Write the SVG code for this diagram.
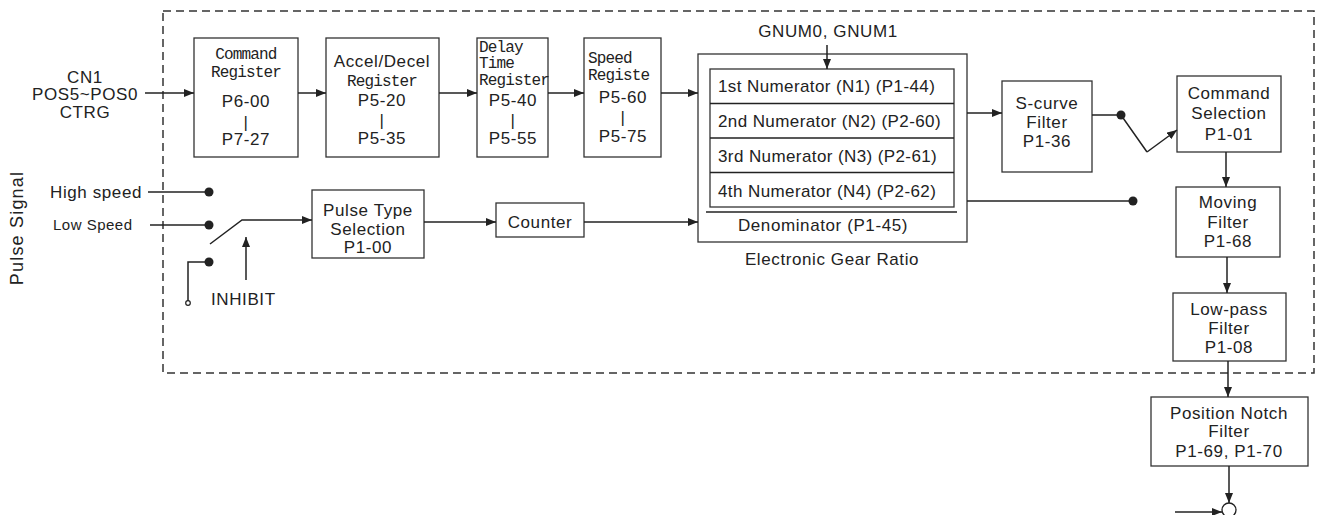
<svg xmlns="http://www.w3.org/2000/svg" width="1324" height="515" viewBox="0 0 1324 515">
<defs>
<style>
.box{fill:#fff;stroke:#333;stroke-width:1.3}
.ln{fill:none;stroke:#222;stroke-width:1.5}
.arr{fill:none;stroke:#222;stroke-width:1.5;marker-end:url(#ah)}
.dot{fill:#222}
.s{font-family:"Liberation Sans",Arial,sans-serif;font-size:17px;letter-spacing:0.6px;fill:#222}
.m{font-family:"Liberation Mono","Courier New",monospace;font-size:16px;letter-spacing:-0.85px;fill:#222}
.c{text-anchor:middle}
</style>
<marker id="ah" viewBox="0 0 10 8" refX="10" refY="4" markerWidth="10" markerHeight="8" markerUnits="userSpaceOnUse" orient="auto">
<path d="M0,0 L10,4 L0,8 Z" fill="#222"/>
</marker>
</defs>
<rect width="1324" height="515" fill="#fff"/>
<rect id="frame" x="163" y="11" width="1151" height="362" fill="none" stroke="#333" stroke-width="1.5" stroke-dasharray="8 5"/>

<g id="cn1">
<text class="s c" x="85" y="83">CN1</text>
<text class="s c" x="85" y="100">POS5~POS0</text>
<text class="s c" x="85" y="118">CTRG</text>
</g>

<g id="pulse-signal">
<text class="s c" transform="translate(23,228) rotate(-90)" style="font-size:18px;letter-spacing:1.2px">Pulse Signal</text>
<text class="s" x="50" y="198">High speed</text>
<text class="s" x="53" y="230" style="font-size:15px;letter-spacing:0.5px">Low  Speed</text>
<text class="s" x="211" y="305">INHIBIT</text>
</g>

<g id="command-register">
<rect class="box" x="194" y="38" width="104" height="119"/>
<text class="m c" x="246" y="59">Command</text>
<text class="m c" x="246" y="77">Register</text>
<text class="s c" x="246" y="107">P6-00</text>
<text class="s c" x="246" y="128">|</text>
<text class="s c" x="246" y="145">P7-27</text>
</g>

<g id="accel-decel">
<rect class="box" x="326" y="38" width="113" height="119"/>
<text class="s c" x="382" y="67">Accel/Decel</text>
<text class="m c" x="382" y="86">Register</text>
<text class="s c" x="382" y="106">P5-20</text>
<text class="s c" x="382" y="126">|</text>
<text class="s c" x="382" y="144">P5-35</text>
</g>

<g id="delay-time">
<rect class="box" x="477" y="38" width="71" height="119"/>
<text class="m" x="479" y="52">Delay</text>
<text class="m" x="479" y="68">Time</text>
<text class="m" x="479" y="85">Register</text>
<text class="s c" x="513" y="106">P5-40</text>
<text class="s c" x="513" y="126">|</text>
<text class="s c" x="513" y="144">P5-55</text>
</g>

<g id="speed-register">
<rect class="box" x="584" y="38" width="77" height="119"/>
<text class="m" x="588" y="63">Speed</text>
<text class="m" x="588" y="80">Registe</text>
<text class="s c" x="623" y="103">P5-60</text>
<text class="s c" x="623" y="123">|</text>
<text class="s c" x="623" y="142">P5-75</text>
</g>

<g id="gear-ratio">
<text class="s c" x="828" y="37">GNUM0, GNUM1</text>
<rect class="box" x="698" y="54" width="269" height="188"/>
<rect class="box" x="710" y="69" width="244" height="138"/>
<path class="ln" d="M710,103.5 H954 M710,138 H954 M710,172.5 H954" stroke-width="1.3"/>
<path class="ln" d="M706,212 H957" stroke-width="1.3"/>
<text class="s" x="718" y="92" style="letter-spacing:0.4px">1st Numerator (N1) (P1-44)</text>
<text class="s" x="718" y="127" style="letter-spacing:0.4px">2nd Numerator (N2) (P2-60)</text>
<text class="s" x="718" y="162" style="letter-spacing:0.4px">3rd Numerator (N3) (P2-61)</text>
<text class="s" x="718" y="197" style="letter-spacing:0.4px">4th Numerator (N4) (P2-62)</text>
<text class="s c" x="823" y="231">Denominator (P1-45)</text>
<text class="s c" x="832" y="265">Electronic Gear Ratio</text>
</g>

<g id="pulse-type">
<rect class="box" x="312" y="190" width="112" height="68"/>
<text class="s c" x="368" y="216">Pulse Type</text>
<text class="s c" x="368" y="235">Selection</text>
<text class="s c" x="368" y="253">P1-00</text>
</g>

<g id="counter">
<rect class="box" x="496" y="203" width="88" height="34"/>
<text class="s c" x="540" y="228">Counter</text>
</g>

<g id="s-curve">
<rect class="box" x="1002" y="81" width="90" height="91"/>
<text class="s c" x="1047" y="109">S-curve</text>
<text class="s c" x="1047" y="128">Filter</text>
<text class="s c" x="1047" y="147">P1-36</text>
</g>

<g id="command-selection">
<rect class="box" x="1177" y="76" width="104" height="76"/>
<text class="s c" x="1229" y="99">Command</text>
<text class="s c" x="1229" y="119">Selection</text>
<text class="s c" x="1229" y="140">P1-01</text>
</g>

<g id="moving-filter">
<rect class="box" x="1176" y="187" width="104" height="70"/>
<text class="s c" x="1228" y="208">Moving</text>
<text class="s c" x="1228" y="228">Filter</text>
<text class="s c" x="1228" y="247">P1-68</text>
</g>

<g id="low-pass">
<rect class="box" x="1173" y="293" width="113" height="68"/>
<text class="s c" x="1229" y="315">Low-pass</text>
<text class="s c" x="1229" y="334">Filter</text>
<text class="s c" x="1229" y="353">P1-08</text>
</g>

<g id="notch">
<rect class="box" x="1151" y="397" width="157" height="69"/>
<text class="s c" x="1229" y="419">Position Notch</text>
<text class="s c" x="1229" y="437">Filter</text>
<text class="s c" x="1229" y="457">P1-69, P1-70</text>
</g>

<g id="connectors">
<path class="arr" d="M145,93 H194"/>
<path class="arr" d="M298,93 H326"/>
<path class="arr" d="M439,93 H477"/>
<path class="arr" d="M548,93 H584"/>
<path class="arr" d="M661,93 H698"/>
<path class="arr" d="M827,45 V69"/>
<path class="arr" d="M967,113 H1002"/>
<path class="ln" d="M1092,115 H1121 L1147,152"/>
<path class="arr" d="M1147,152 L1177,130"/>
<path class="ln" d="M967,201 H1133"/>
<path class="arr" d="M1226,152 V187"/>
<path class="arr" d="M1227,257 V293"/>
<path class="arr" d="M1228,361 V397"/>
<path class="arr" d="M1229,466 V503"/>
<path class="arr" d="M1175,512 H1222"/>
<path class="ln" d="M148,192 H209"/>
<path class="ln" d="M150,225 H209"/>
<path class="ln" d="M209,262 H188 V301"/>
<path class="ln" d="M210,244 L242,220 H262"/>
<path class="arr" d="M262,220 H312"/>
<path class="arr" d="M246,280 V237"/>
<path class="arr" d="M424,222 H496"/>
<path class="arr" d="M584,222 H698"/>
<circle class="dot" cx="1121" cy="115" r="4.5"/>
<circle class="dot" cx="1133" cy="201" r="4.5"/>
<circle class="dot" cx="209" cy="192" r="4.5"/>
<circle class="dot" cx="209" cy="225" r="4.5"/>
<circle class="dot" cx="209" cy="262" r="4.5"/>
<circle cx="188" cy="303" r="2.3" fill="#fff" stroke="#222" stroke-width="1.2"/>
<circle cx="1229" cy="510" r="7" fill="#fff" stroke="#222" stroke-width="1.3"/>
</g>
</svg>
